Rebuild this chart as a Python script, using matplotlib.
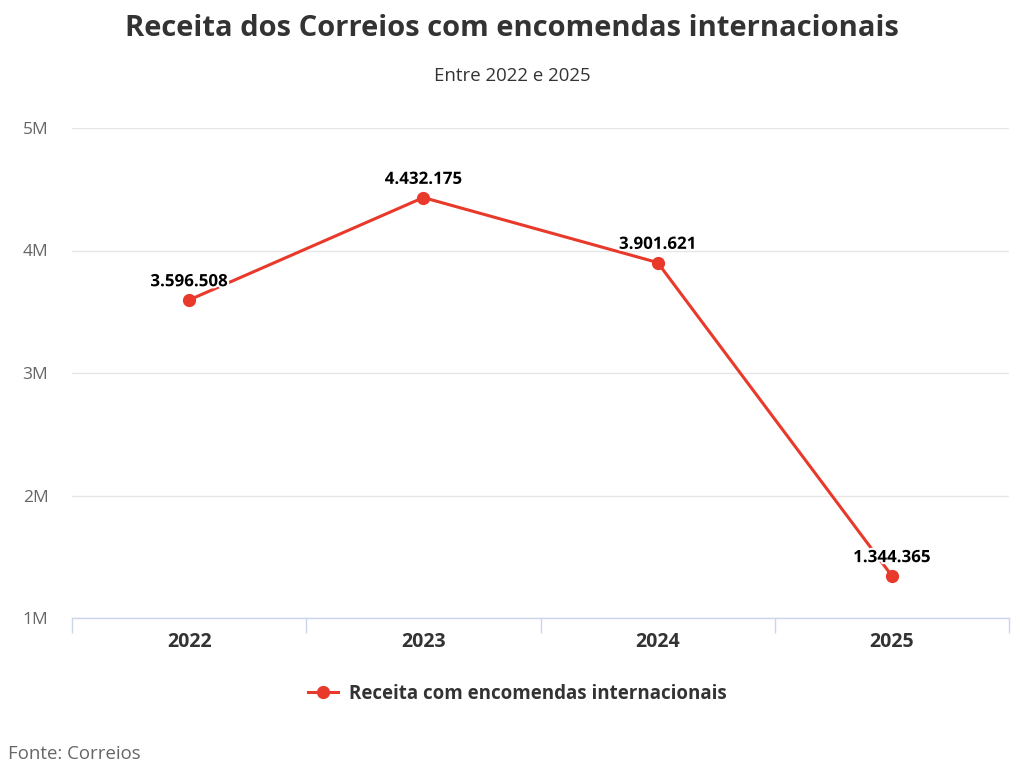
import matplotlib.pyplot as plt
import matplotlib.patheffects as pe
from matplotlib.lines import Line2D

plt.rcParams['font.family'] = ['Open Sans', 'DejaVu Sans']

years = ["2022", "2023", "2024", "2025"]
receita = [3596508, 4432175, 3901621, 1344365]
labels = ["3.596.508", "4.432.175", "3.901.621", "1.344.365"]
yticks = [1e6, 2e6, 3e6, 4e6, 5e6]
ytick_labels = ["1M", "2M", "3M", "4M", "5M"]

red = "#e8392a"

fig = plt.figure(figsize=(10.24, 7.73), dpi=100)
ax = fig.add_axes([72/1024, 1-618/773, (1009-72)/1024, (618-128)/773])

x = list(range(len(years)))
ax.plot(x, receita, color=red, linewidth=2.2, marker="o", markersize=8.5, zorder=3, clip_on=False)

for i, v in enumerate(receita):
    ax.annotate(labels[i], (i, v), xytext=(0, 7), textcoords="offset points",
                ha="center", va="bottom", fontsize=12.2, fontweight="bold", color="black",
                path_effects=[pe.withStroke(linewidth=3, foreground="white")], zorder=4)

ax.set_xlim(-0.5, 3.5)
ax.set_ylim(1e6, 5e6)
ax.set_yticks(yticks)
ax.set_yticklabels(ytick_labels)
ax.grid(axis="y", color="#e6e6e6", linewidth=1)
ax.set_axisbelow(True)

for s in ["top", "right", "left"]:
    ax.spines[s].set_visible(False)
ax.spines["bottom"].set_color("#ccd6eb")
ax.spines["bottom"].set_linewidth(1)

ax.set_xticks(x)
ax.set_xticklabels(years, fontsize=14, fontweight="bold", color="#333333")
ax.tick_params(axis="x", length=0, pad=10)
ax.set_xticks([-0.5, 0.5, 1.5, 2.5, 3.5], minor=True)
ax.tick_params(axis="x", which="minor", length=11, color="#ccd6eb", width=1)
ax.tick_params(axis="y", length=0, labelsize=12.5, labelcolor="#666666", pad=17)

fig.text(0.5, 1-28/773, "Receita dos Correios com encomendas internacionais", ha="center", va="center",
         fontsize=21, fontweight="bold", color="#333333")
fig.text(0.5, 1-76/773, "Entre 2022 e 2025", ha="center", va="center", fontsize=13.4, color="#333333")

handle = Line2D([0], [0], color=red, linewidth=2.2, marker="o", markersize=8.5)
fig.legend([handle], ["Receita com encomendas internacionais"], loc="center",
           bbox_to_anchor=(0.505, 1-694/773), frameon=False, handlelength=1.6, handletextpad=0.6,
           prop={"size": 13.5, "weight": "bold"}, labelcolor="#333333")

fig.text(8/1024, 1-754/773, "Fonte: Correios", ha="left", va="center", fontsize=13.4, color="#666666")

fig.savefig("out.png", dpi=100)
